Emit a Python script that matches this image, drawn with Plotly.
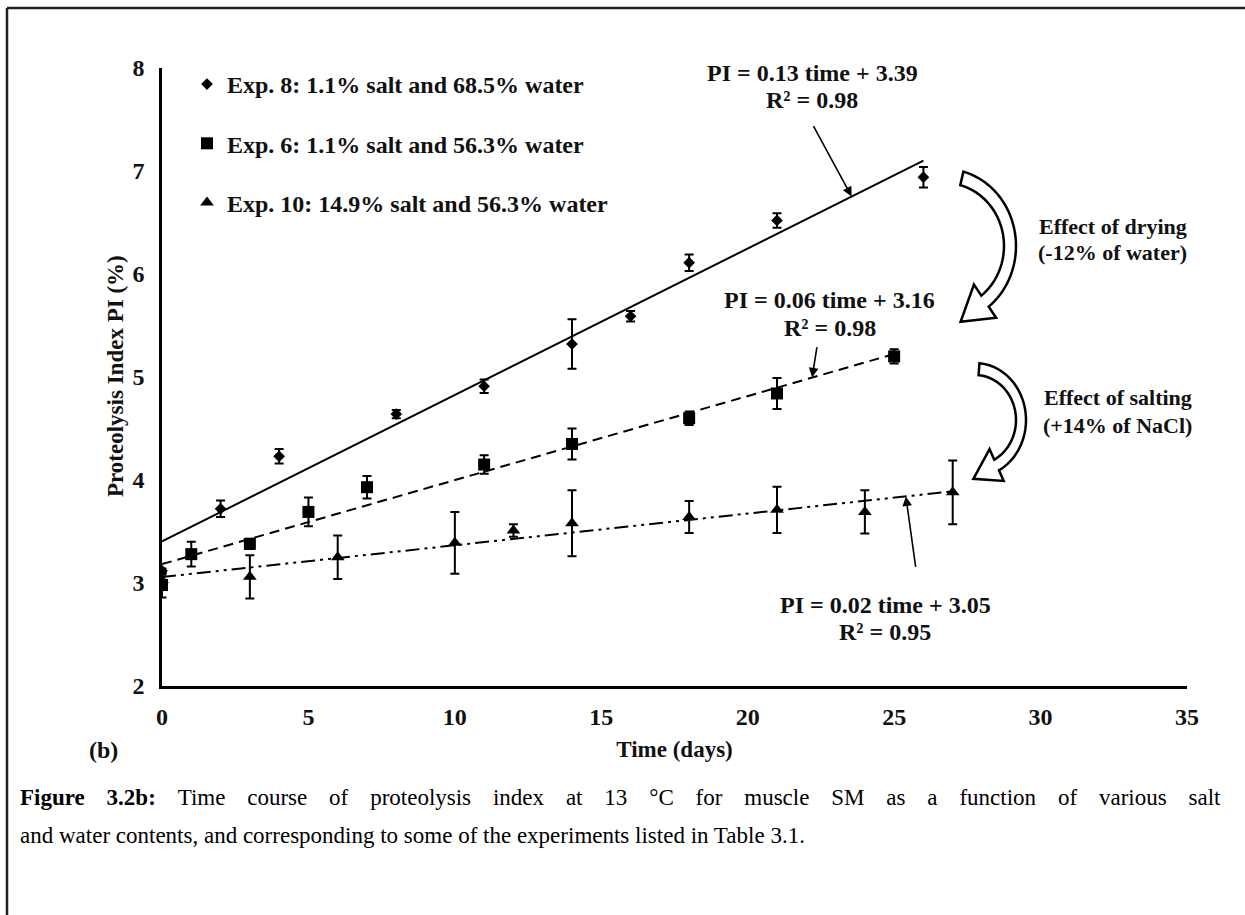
import numpy as np
import plotly.graph_objects as go

# ---- measured proteolysis index (mean and error) ----
t_exp8 = [0, 2, 4, 8, 11, 14, 16, 18, 21, 26]
pi_exp8 = [3.12, 3.72, 4.23, 4.64, 4.91, 5.32, 5.59, 6.11, 6.52, 6.94]
sd_exp8 = [0.02, 0.08, 0.07, 0.04, 0.065, 0.24, 0.05, 0.08, 0.07, 0.10]

t_exp6 = [0, 1, 3, 5, 7, 11, 14, 18, 21, 25]
pi_exp6 = [2.98, 3.28, 3.38, 3.69, 3.93, 4.15, 4.35, 4.60, 4.84, 5.20]
sd_exp6 = [0.12, 0.12, 0.05, 0.14, 0.11, 0.09, 0.15, 0.065, 0.15, 0.07]

t_exp10 = [0, 3, 6, 10, 12, 14, 18, 21, 24, 27]
pi_exp10 = [3.03, 3.06, 3.25, 3.39, 3.51, 3.58, 3.64, 3.71, 3.69, 3.88]
sd_exp10 = [0.05, 0.21, 0.21, 0.30, 0.06, 0.32, 0.155, 0.225, 0.21, 0.31]

series_names = [
    "Exp. 8: 1.1% salt and 68.5% water",
    "Exp. 6: 1.1% salt and 56.3% water",
    "Exp. 10: 14.9% salt and 56.3% water",
]
eq_labels = ["PI = 0.13 time + 3.39", "PI = 0.06 time + 3.16", "PI = 0.02 time + 3.05"]
r2_labels = ["R² = 0.98", "R² = 0.98", "R² = 0.95"]

x_ticks = [0, 5, 10, 15, 20, 25, 30, 35]
y_ticks = [2, 3, 4, 5, 6, 7, 8]

caption_1 = ["<b>Figure</b>", "<b>3.2b:</b>", "Time", "course", "of", "proteolysis", "index",
             "at", "13", "°C", "for", "muscle", "SM", "as", "a", "function", "of",
             "various", "salt"]
caption_2 = "and water contents, and corresponding to some of the experiments listed in Table 3.1."

# ---- figure geometry ----
W, H = 1245, 915
L, R, T, B = 162, 58, 68, 229
PW, PH = W - L - R, H - T - B
SERIF = "Liberation Serif"
INK = "#111111"


def px(x):
    return (x - L) / PW


def py(y):
    return 1 - (y - T) / PH


def bold(size):
    return dict(family=SERIF, size=size, color=INK, weight="bold")


fig = go.Figure()

datasets = [
    (t_exp8, pi_exp8, sd_exp8, "diamond", 9, "solid"),
    (t_exp6, pi_exp6, sd_exp6, "square", 12, "10px,6px"),
    (t_exp10, pi_exp10, sd_exp10, "triangle-up", 12, "14px,5px,3px,5px,3px,5px"),
]

fits = []
# linear trend lines (least squares over each experiment's time span)
for t, pi, sd, sym, size, dash in datasets:
    slope, icpt = np.polyfit(t, pi, 1)
    fits.append((slope, icpt))
    xs = np.array([min(t), max(t)], dtype=float)
    fig.add_trace(go.Scatter(
        x=xs, y=slope * xs + icpt, mode="lines",
        line=dict(color="black", width=2, dash=dash),
        showlegend=False, hoverinfo="skip",
    ))

for i, (t, pi, sd, sym, size, dash) in enumerate(datasets):
    fig.add_trace(go.Scatter(
        x=t, y=pi, mode="markers", name=series_names[i],
        marker=dict(symbol=sym, size=size, color="black"),
        error_y=dict(type="data", array=sd, visible=True,
                     color="black", thickness=2, width=4.5),
        legendgroup=f"g{i}",
    ))

anns = []
# trend-line equations
eq_pos = [(22.2, 7.95, 7.69), (22.8, 5.75, 5.48), (24.7, 2.79, 2.52)]
for (ex, ey1, ey2), eq, r2 in zip(eq_pos, eq_labels, r2_labels):
    anns.append(dict(x=ex, y=ey1, xref="x", yref="y", text=eq, showarrow=False, font=bold(24)))
    anns.append(dict(x=ex, y=ey2, xref="x", yref="y", text=r2, showarrow=False, font=bold(24)))

# pointer arrows from equations to their lines
ptr = [(0, 23.55, -39, -72), (1, 22.2, 5, -32), (2, 25.4, 10, 72)]
for k, xt, ax, ay in ptr:
    s, c = fits[k]
    anns.append(dict(x=xt, y=s * xt + c, xref="x", yref="y", text="",
                     showarrow=True, ax=ax, ay=ay, arrowhead=2, arrowsize=1.2,
                     arrowwidth=1.6, arrowcolor="black", standoff=0))

# effect labels
eff = [(32.47, 6.46, "Effect of drying"), (32.47, 6.21, "(-12% of water)"),
       (32.64, 4.80, "Effect of salting"), (32.64, 4.53, "(+14% of NaCl)")]
for ex, ey, txt in eff:
    anns.append(dict(x=ex, y=ey, xref="x", yref="y", text=txt, showarrow=False, font=bold(22)))

# y-axis title
anns.append(dict(x=px(115), y=py(376), xref="paper", yref="paper",
                 text="Proteolysis Index PI (%)", textangle=-90,
                 xanchor="center", yanchor="middle", showarrow=False, font=bold(23)))

# panel tag
anns.append(dict(x=px(103), y=py(750), xref="paper", yref="paper", text="(b)",
                 xanchor="center", yanchor="middle", showarrow=False, font=bold(24)))

# caption: first line set justified by widening the word gaps
cap_font = dict(family=SERIF, size=23, color="black")
gap = " \u00a0\u00a0\u2009"
anns.append(dict(x=px(18), y=py(797), xref="paper", yref="paper", xanchor="left",
                 yanchor="middle", text=gap.join(caption_1), showarrow=False, font=cap_font))
anns.append(dict(x=px(18), y=py(836), xref="paper", yref="paper", xanchor="left",
                 yanchor="middle", text=caption_2, showarrow=False, font=cap_font))


def curved_arrow(cx, cy, rxo, ryo, rxi, ryi, th0, th1, head_len, ext):
    """Hollow curved block arrow, built in pixel space, returned as a paper path."""
    th = np.radians(np.linspace(th0, th1, 40))
    outer = [(cx + rxo * np.cos(a), cy - ryo * np.sin(a)) for a in th]
    inner = [(cx + rxi * np.cos(a), cy - ryi * np.sin(a)) for a in th]
    o_end, i_end = np.array(outer[-1]), np.array(inner[-1])
    a = th[-1]
    tang = np.array([rxo * np.sin(a), ryo * np.cos(a)])
    tang /= np.linalg.norm(tang)
    mid = (o_end + i_end) / 2
    wing_o = o_end + ext * (o_end - i_end)
    wing_i = i_end + ext * (i_end - o_end)
    tip = mid + head_len * tang
    pts = outer + [tuple(wing_o), tuple(tip), tuple(wing_i)] + inner[::-1]
    return "M " + " L ".join(f"{px(x):.5f},{py(y):.5f}" for x, y in pts) + " Z"


arrows = [
    curved_arrow(945, 246, 71, 77, 59, 63, 75, -52, 32, 1.0),
    curved_arrow(975, 420, 51, 57, 41, 45, 85, -62, 27, 1.0),
]
shapes = [dict(type="path", path=p, xref="paper", yref="paper",
               line=dict(color="black", width=2.5), fillcolor="white") for p in arrows]

# page frame (top and left rules)
shapes.append(dict(type="line", xref="paper", yref="paper",
                   x0=px(7), x1=px(W + 5), y0=py(8), y1=py(8),
                   line=dict(color="#222", width=2.5)))
shapes.append(dict(type="line", xref="paper", yref="paper",
                   x0=px(7), x1=px(7), y0=py(8), y1=py(H + 5),
                   line=dict(color="#222", width=2.5)))

fig.update_layout(
    width=W, height=H,
    margin=dict(l=L, r=R, t=T, b=B, pad=0),
    paper_bgcolor="white", plot_bgcolor="white",
    font=dict(family=SERIF, color=INK),
    showlegend=True,
    legend=dict(x=px(187), y=py(62), xanchor="left", yanchor="top",
                font=bold(24), bgcolor="rgba(0,0,0,0)",
                tracegroupgap=25, itemwidth=30),
    annotations=anns,
    shapes=shapes,
)
fig.update_xaxes(
    range=[0, 35], tickvals=x_ticks, showline=True, linecolor="black", linewidth=2.5,
    showgrid=False, zeroline=False, ticks="", ticklabelstandoff=7,
    tickfont=bold(24),
    title=dict(text="Time (days)", standoff=13, font=bold(23)),
)
fig.update_yaxes(
    range=[2, 8], tickvals=y_ticks, showline=True, linecolor="black", linewidth=2.5,
    showgrid=False, zeroline=False, ticks="", ticklabelstandoff=10,
    tickfont=bold(24),
)

fig.write_html("out.html")
